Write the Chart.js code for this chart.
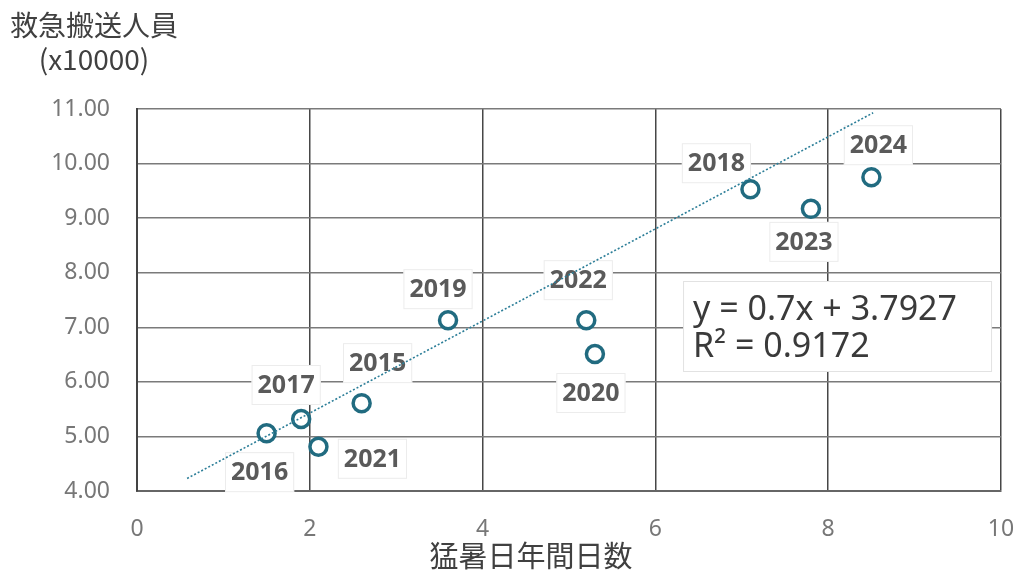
<!DOCTYPE html>
<html>
<head>
<meta charset="utf-8">
<script src="https://cdn.jsdelivr.net/npm/chart.js@4.4.1/dist/chart.umd.min.js"></script>
<style>
  body { margin: 0; background: #fff; }
  #wrap { width: 1019px; height: 571px; }
</style>
</head>
<body>
<div id="wrap"><canvas id="chart" width="1019" height="571"></canvas></div>
<script>
// 年ごとの猛暑日年間日数と救急搬送人員(万人)
var years = ['2015', '2016', '2017', '2018', '2019', '2020', '2021', '2022', '2023', '2024'];
var hotDays = [2.6, 1.5, 1.9, 7.1, 3.6, 5.3, 2.1, 5.2, 7.8, 8.5];
var transports = [5.61, 5.06, 5.32, 9.53, 7.13, 6.51, 4.81, 7.13, 9.17, 9.75];

// 近似線 (図に描かれている点線の両端)
var trendX = [0.58, 8.52];
var trendY = [4.23, 10.93];

var equationLines = ['y = 0.7x + 3.7927', 'R\u00b2 = 0.9172'];
var yTitleLines = ['救急搬送人員', '(x10000)'];
var xTitle = '猛暑日年間日数';

// ラベルの位置 (点からのずれ, px)
var labelOffsets = [[16, -40], [-7, 39], [-15, -34], [-34, -26], [-10, -31],
                    [-4, 39], [54, 12], [-8, -40], [-7, 33], [7, -32]];

var points = [];
for (var i = 0; i < years.length; i++) {
  points.push({ x: hotDays[i], y: transports[i] });
}
var trend = [];
for (var j = 0; j < trendX.length; j++) {
  trend.push({ x: trendX[j], y: trendY[j] });
}

var extras = {
  id: 'extras',
  beforeDatasetsDraw: function(chart) {
    var ctx = chart.ctx;
    var area = chart.chartArea;

    // 年ラベル
    var meta = chart.getDatasetMeta(1);
    ctx.save();
    ctx.font = 'bold 25px "Noto Sans"';
    ctx.textAlign = 'center';
    ctx.textBaseline = 'middle';
    for (var i = 0; i < meta.data.length; i++) {
      var p = meta.data[i];
      var cx = p.x + labelOffsets[i][0];
      var cy = p.y + labelOffsets[i][1];
      var w = ctx.measureText(years[i]).width + 12;
      var h = 40;
      ctx.fillStyle = '#fff';
      ctx.fillRect(cx - w / 2, cy - h / 2, w, h);
      ctx.strokeStyle = '#ececec';
      ctx.lineWidth = 1;
      ctx.strokeRect(cx - w / 2 + 0.5, cy - h / 2 + 0.5, w - 1, h - 1);
      ctx.fillStyle = '#5a5a5a';
      ctx.fillText(years[i], cx, cy + 1);
    }

    // 数式ボックス
    var bx = area.left + (area.right - area.left) * 0.632;
    var by = area.top + 172;
    var bw = 309, bh = 91;
    ctx.fillStyle = '#fff';
    ctx.fillRect(bx, by, bw, bh);
    ctx.strokeStyle = '#e2e2e2';
    ctx.strokeRect(bx + 0.5, by + 0.5, bw - 1, bh - 1);
    ctx.font = '34px "Noto Sans"';
    ctx.textAlign = 'left';
    ctx.textBaseline = 'alphabetic';
    ctx.fillStyle = '#3a3a3a';
    ctx.fillText(equationLines[0], bx + 10, by + 39);
    ctx.fillText(equationLines[1], bx + 10, by + 76);
    ctx.restore();
  },
  afterDraw: function(chart) {
    var ctx = chart.ctx;
    var area = chart.chartArea;
    ctx.save();
    ctx.fillStyle = '#404040';
    ctx.textAlign = 'center';
    ctx.textBaseline = 'middle';
    ctx.font = '28px "Noto Sans CJK JP"';
    ctx.fillText(yTitleLines[0], 94, 25);
    ctx.fillText(yTitleLines[1], 94, 59);
    ctx.font = '29px "Noto Sans CJK JP"';
    ctx.fillText(xTitle, (area.left + area.right) / 2 - 38, 556);
    ctx.restore();
  }
};

new Chart(document.getElementById('chart'), {
  type: 'scatter',
  data: {
    datasets: [{
      type: 'line',
      data: trend,
      borderColor: '#2c7e98',
      borderWidth: 1.6,
      borderDash: [2, 2],
      pointRadius: 0,
      fill: false,
      order: 0
    }, {
      data: points,
      pointStyle: 'circle',
      pointRadius: 8.5,
      borderWidth: 3.5,
      borderColor: '#216b80',
      backgroundColor: '#fff',
      order: 1
    }]
  },
  options: {
    responsive: false,
    animation: false,
    layout: { padding: { top: 109, right: 0, bottom: 0, left: 0 } },
    plugins: {
      legend: { display: false },
      tooltip: { enabled: false }
    },
    scales: {
      x: {
        type: 'linear',
        min: 0,
        max: 10,
        afterFit: function(scale) {
          scale.height = 80;
          scale.paddingLeft = 0;
          scale.paddingRight = 18;
        },
        ticks: { stepSize: 2, padding: 25, color: '#777', font: { family: 'Noto Sans', size: 23 } },
        grid: { color: '#474747', lineWidth: 1.5, drawTicks: false },
        border: { color: '#666', width: 2 }
      },
      y: {
        min: 4,
        max: 11,
        afterFit: function(scale) { scale.width = 137; },
        ticks: {
          stepSize: 1,
          padding: 27,
          color: '#777',
          font: { family: 'Noto Sans', size: 23 },
          callback: function(v) { return v.toFixed(2); }
        },
        grid: { color: '#7a7a7a', lineWidth: 1.5, drawTicks: false },
        border: { color: '#444', width: 2 }
      }
    }
  },
  plugins: [extras]
});
</script>
</body>
</html>
